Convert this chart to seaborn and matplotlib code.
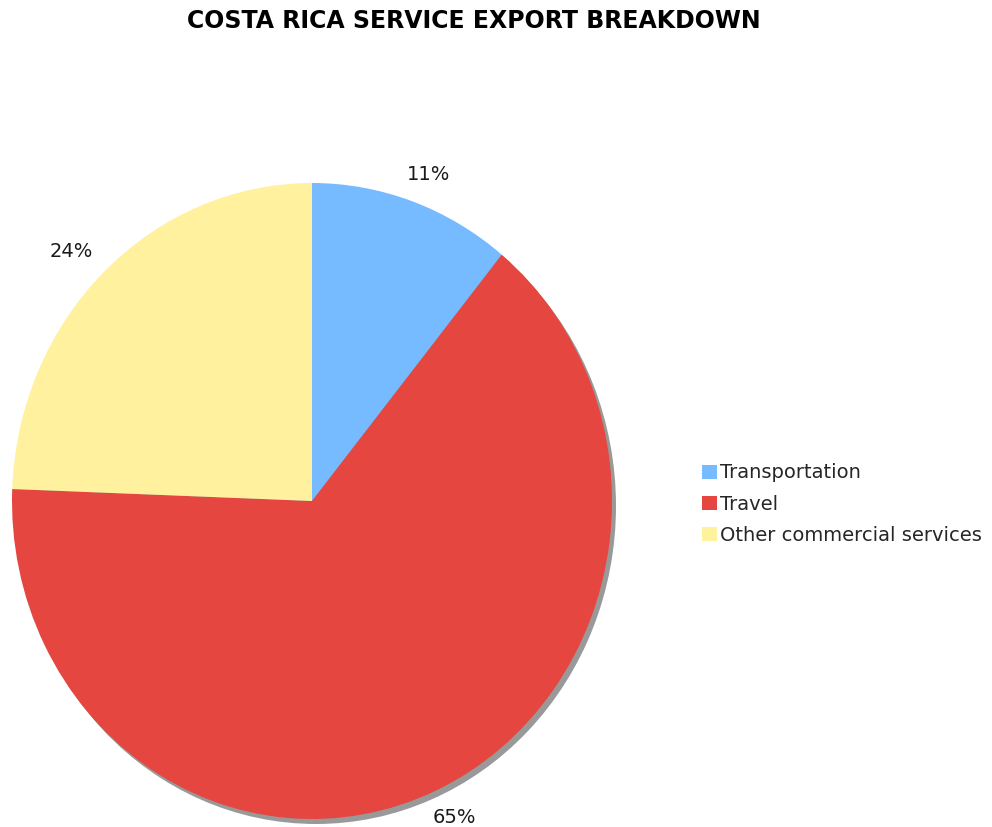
import matplotlib
matplotlib.use("Agg")
import numpy as np
import matplotlib.pyplot as plt
from matplotlib.patches import Ellipse
import seaborn as sns

# Service export shares (percent)
categories = ["Transportation", "Travel", "Other commercial services"]
shares = [10.9, 64.7, 24.4]
colors = ["#76BAFF", "#E5463F", "#FFF19E"]

sns.set_theme(style="white")
plt.rcParams["font.family"] = ["DejaVu Sans"]

W, H = 992, 827
fig = plt.figure(figsize=(W / 100, H / 100), dpi=100)

# Pie occupies a slightly taller-than-wide ellipse
px_left, px_right, px_top, px_bottom = 12, 612, 183, 819
rx_px = (px_right - px_left) / 2
ry_px = (px_bottom - px_top) / 2
ax = fig.add_axes([px_left / W, (H - px_bottom) / H,
                   (px_right - px_left) / W, (px_bottom - px_top) / H])

palette = sns.color_palette(colors)
wedges, texts, autotexts = ax.pie(
    shares,
    colors=palette,
    startangle=90,
    counterclock=False,
    autopct="%.0f%%",
    wedgeprops=dict(linewidth=0),
    textprops=dict(fontsize=14, color="#1a1a1a"),
)
ax.set_aspect("auto")
ax.set_xlim(-1, 1)
ax.set_ylim(-1, 1)
ax.axis("off")

# Percentage labels sit a fixed pixel distance outside the centre along each wedge's mid-angle
label_r_px = 347
for w, t in zip(wedges, autotexts):
    mid = np.deg2rad((w.theta1 + w.theta2) / 2)
    t.set_position((label_r_px / rx_px * np.cos(mid), label_r_px / ry_px * np.sin(mid)))
    t.set_ha("center")
    t.set_va("center")
    t.set_clip_on(False)

# Drop shadow towards the lower right
sx = 4 / rx_px
sy = 5 / ry_px
shadow = Ellipse((sx, -sy), 2, 2, facecolor="#999999", edgecolor="none",
                 zorder=0, clip_on=False)
ax.add_patch(shadow)
for w in wedges:
    w.set_zorder(1)

fig.text(474 / W, 1 - 21 / H, "COSTA RICA SERVICE EXPORT BREAKDOWN",
         ha="center", va="center", fontsize=17, fontweight="bold", color="black")

fig.legend(wedges, categories, loc="center left",
           bbox_to_anchor=(702 / W, 1 - 504 / H), frameon=False,
           fontsize=14, handlelength=0.75, handleheight=0.75,
           handletextpad=0.15, labelspacing=0.62, borderpad=0, borderaxespad=0)

fig.savefig("out.png", dpi=100, facecolor="white")
